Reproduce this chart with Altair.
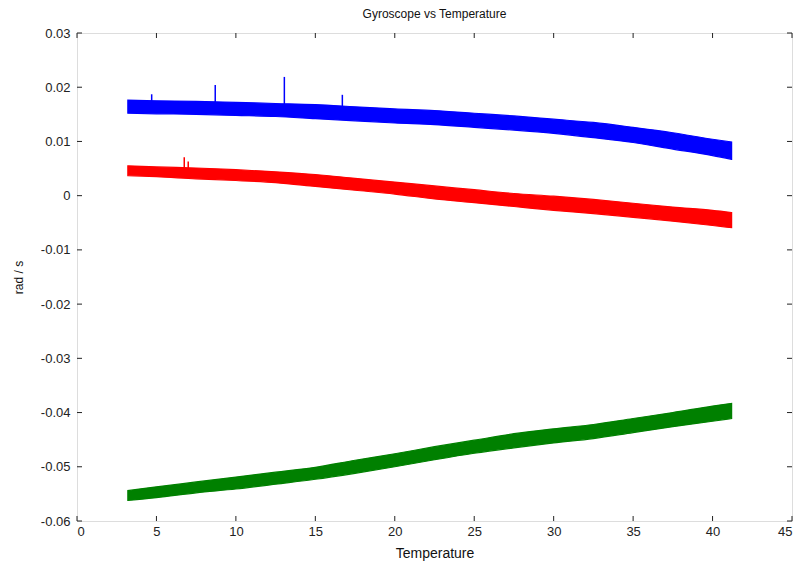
import altair as alt
import pandas as pd

# Temperature sample points (deg)
temps = [3.2, 5, 7.5, 10, 12.5, 15, 17.5, 20, 22.5, 25, 27.5, 30, 32.5, 35, 37.5, 40, 41.2]

# Band centre (rad/s) for each gyro axis
blue_mid = [0.0164, 0.0163, 0.0162, 0.0160, 0.0158, 0.0155, 0.0151, 0.0147, 0.0144,
            0.0139, 0.0134, 0.0128, 0.0121, 0.0112, 0.0101, 0.0089, 0.0083]
red_mid = [0.0046, 0.0044, 0.0041, 0.0038, 0.0034, 0.0028, 0.0021, 0.0014, 0.0006,
           -0.0001, -0.0008, -0.0014, -0.0020, -0.0027, -0.0034, -0.0041, -0.0045]
green_mid = [-0.0553, -0.0547, -0.0538, -0.0530, -0.0521, -0.0512, -0.0500, -0.0488, -0.0475,
             -0.0463, -0.0452, -0.0443, -0.0435, -0.0424, -0.0413, -0.0402, -0.0397]

# Half thickness of the noise band
blue_half = [0.0012, 0.0012, 0.0012, 0.0012, 0.0012, 0.0013, 0.0013, 0.0013, 0.0013,
             0.0013, 0.0013, 0.0013, 0.0014, 0.0014, 0.0015, 0.0015, 0.0016]
red_half = [0.0009, 0.0009, 0.0010, 0.0010, 0.0010, 0.0011, 0.0011, 0.0011, 0.0012,
            0.0012, 0.0012, 0.0013, 0.0013, 0.0013, 0.0013, 0.0014, 0.0014]
green_half = [0.0009, 0.0010, 0.0010, 0.0011, 0.0011, 0.0011, 0.0012, 0.0012, 0.0012,
              0.0012, 0.0013, 0.0013, 0.0013, 0.0013, 0.0013, 0.0014, 0.0014]

series_names = ["x", "y", "z"]
series_colors = ["#0000FF", "#FF0000", "#008000"]

# Outlier spikes
spike_temp = [4.7, 8.7, 13.05, 16.7, 6.75, 7.0]
spike_top = [0.0187, 0.0204, 0.0219, 0.0186, 0.0071, 0.0063]
spike_base = [0.0170, 0.0170, 0.0168, 0.0165, 0.0050, 0.0050]
spike_series = ["x", "x", "x", "x", "y", "y"]

x_ticks = [0, 5, 10, 15, 20, 25, 30, 35, 40, 45]
y_ticks = [-0.06, -0.05, -0.04, -0.03, -0.02, -0.01, 0.0, 0.01, 0.02, 0.03]

rows = []
for name, mids, halves in zip(series_names, [blue_mid, red_mid, green_mid],
                              [blue_half, red_half, green_half]):
    for t, m, h in zip(temps, mids, halves):
        rows.append({"temp": t, "lo": m - h, "hi": m + h, "series": name})
band_df = pd.DataFrame(rows)

spike_df = pd.DataFrame({"temp": spike_temp, "lo": spike_base,
                         "hi": spike_top, "series": spike_series})
xt_df = pd.DataFrame({"temp": x_ticks})
yt_df = pd.DataFrame({"lo": y_ticks})

W, H = 715, 488
FONT = "Liberation Sans"

xscale = alt.Scale(domain=[0, 45], nice=False, zero=False)
yscale = alt.Scale(domain=[-0.06, 0.03], nice=False, zero=False)
cscale = alt.Scale(domain=series_names, range=series_colors)

label_expr = ("datum.value == 0 ? '0' : (datum.value < 0 ? '-' + format(-datum.value, '.2f') "
              ": format(datum.value, '.2f'))")

x_axis = alt.Axis(values=x_ticks, title="Temperature", grid=False, domain=False,
                  ticks=False, labelPadding=4, labelFontSize=13, labelColor="#222",
                  labelFont=FONT, titleFont=FONT, titleFontSize=14,
                  titleFontWeight="normal", titleColor="#111",
                  titleY=32, titleBaseline="middle")
y_axis = alt.Axis(values=y_ticks, title="rad / s", grid=False, domain=False,
                  ticks=False, labelPadding=7, labelFontSize=13, labelColor="#222",
                  labelFont=FONT, labelExpr=label_expr, titleFont=FONT,
                  titleFontSize=12, titleFontWeight="normal", titleColor="#111",
                  titleX=-59, titleY=H / 2, titleAngle=-90, titleAlign="center",
                  titleBaseline="middle")

bands = alt.Chart(band_df).mark_area(strokeWidth=1.2, interpolate="monotone").encode(
    x=alt.X("temp:Q", scale=xscale, axis=x_axis),
    y=alt.Y("lo:Q", scale=yscale, axis=y_axis),
    y2="hi:Q",
    color=alt.Color("series:N", scale=cscale, legend=None),
    stroke=alt.Stroke("series:N", scale=cscale, legend=None),
)

spikes = alt.Chart(spike_df).mark_rule(strokeWidth=1.5).encode(
    x=alt.X("temp:Q", scale=xscale, axis=x_axis),
    y=alt.Y("lo:Q", scale=yscale, axis=y_axis),
    y2="hi:Q",
    color=alt.Color("series:N", scale=cscale, legend=None),
)

tick_color = "#222"
x_bottom = alt.Chart(xt_df).mark_rule(color=tick_color).encode(
    x=alt.X("temp:Q", scale=xscale, axis=x_axis), y=alt.value(H), y2=alt.value(H - 5))
x_top = alt.Chart(xt_df).mark_rule(color=tick_color).encode(
    x=alt.X("temp:Q", scale=xscale, axis=x_axis), y=alt.value(0), y2=alt.value(5))
y_left = alt.Chart(yt_df).mark_rule(color=tick_color).encode(
    y=alt.Y("lo:Q", scale=yscale, axis=y_axis), x=alt.value(0), x2=alt.value(5))
y_right = alt.Chart(yt_df).mark_rule(color=tick_color).encode(
    y=alt.Y("lo:Q", scale=yscale, axis=y_axis), x=alt.value(W), x2=alt.value(W - 5))

chart = alt.layer(bands, spikes, x_bottom, x_top, y_left, y_right).properties(
    width=W, height=H,
    title=alt.TitleParams("Gyroscope vs Temperature", font=FONT, fontSize=12,
                          fontWeight="normal", color="#111", anchor="middle", offset=6),
    autosize=alt.AutoSizeParams(type="none"),
    padding={"left": 77, "top": 33, "right": 9, "bottom": 43},
).configure_view(stroke="#222", strokeWidth=1.2).configure(background="white")

chart.save("out.html", embed_options={"renderer": "svg", "actions": False})
